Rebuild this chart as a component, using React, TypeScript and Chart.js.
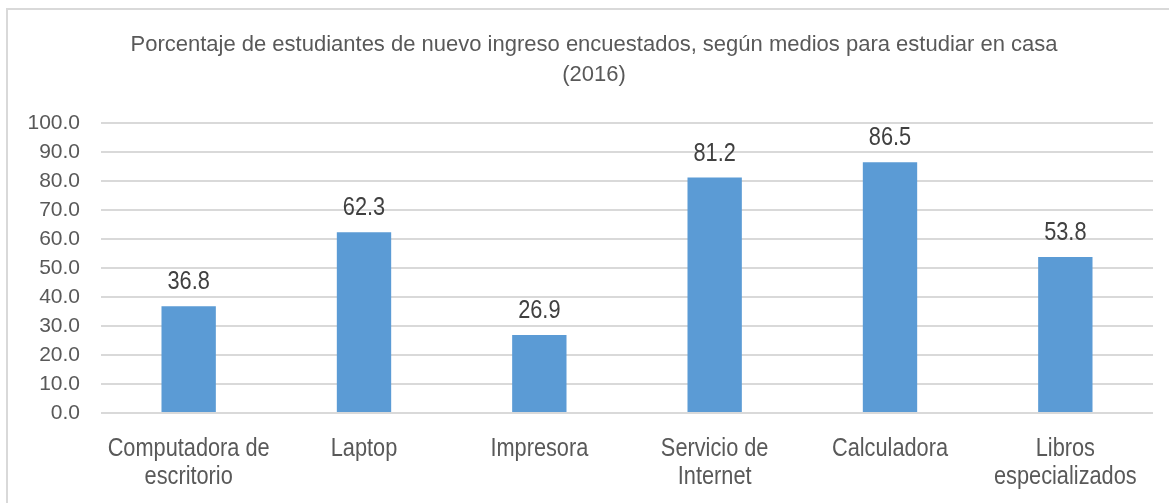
import React, { useEffect, useRef } from "react";
import { Chart, registerables } from "chart.js";

Chart.register(...registerables);

const titleLines = [
  "Porcentaje de estudiantes de nuevo ingreso encuestados, según medios para estudiar en casa",
  "(2016)",
];
const categories: (string | string[])[] = [
  ["Computadora de", "escritorio"],
  "Laptop",
  "Impresora",
  ["Servicio de", "Internet"],
  "Calculadora",
  ["Libros", "especializados"],
];
const values = [36.8, 62.3, 26.9, 81.2, 86.5, 53.8];
const yMin = 0;
const yMax = 100;
const yStep = 10;

const FONT = "'Liberation Sans Narrow', 'Arial Narrow', 'Liberation Sans', Arial, sans-serif";

// Condense the large label text horizontally, as in the reference's narrow font.
const narrowPlugin = {
  id: "narrowText",
  beforeInit(chart: any) {
    const ctx = chart.ctx;
    const orig = ctx.fillText.bind(ctx);
    ctx.fillText = (text: string, x: number, y: number, maxWidth?: number) => {
      const m = /(\d+(?:\.\d+)?)px/.exec(ctx.font);
      const size = m ? parseFloat(m[1]) : 0;
      if (size >= 24) {
        ctx.save();
        ctx.translate(x, y);
        ctx.scale(0.87, 1);
        orig(text, 0, 0);
        ctx.restore();
      } else if (maxWidth !== undefined) {
        orig(text, x, y, maxWidth);
      } else {
        orig(text, x, y);
      }
    };
  },
};

const labelPlugin = {
  id: "barLabels",
  afterDatasetsDraw(chart: any) {
    const ctx = chart.ctx;
    const meta = chart.getDatasetMeta(0);
    ctx.save();
    ctx.font = `25px ${FONT}`;
    ctx.fillStyle = "#404040";
    ctx.textAlign = "center";
    ctx.textBaseline = "alphabetic";
    meta.data.forEach((bar: any, i: number) => {
      ctx.fillText(values[i].toFixed(1), bar.x, bar.y - 17);
    });
    ctx.restore();
  },
};

const titlePlugin = {
  id: "customTitle",
  afterDraw(chart: any) {
    const ctx = chart.ctx;
    ctx.save();
    ctx.font = `22px ${FONT}`;
    ctx.fillStyle = "#595959";
    ctx.textAlign = "center";
    ctx.textBaseline = "alphabetic";
    titleLines.forEach((line, i) => {
      ctx.fillText(line, 594, 51 + i * 30);
    });
    ctx.restore();
  },
};

const framePlugin = {
  id: "frame",
  beforeDraw(chart: any) {
    const ctx = chart.ctx;
    ctx.save();
    ctx.fillStyle = "#ffffff";
    ctx.fillRect(0, 0, chart.width, chart.height);
    ctx.strokeStyle = "#d9d9d9";
    ctx.lineWidth = 2;
    ctx.beginPath();
    ctx.moveTo(7, chart.height);
    ctx.lineTo(7, 9);
    ctx.lineTo(chart.width, 9);
    ctx.stroke();
    ctx.restore();
  },
};

export default function App() {
  const ref = useRef<HTMLCanvasElement | null>(null);
  useEffect(() => {
    document.body.style.margin = "0";
    if (!ref.current) return;
    const chart = new Chart(ref.current, {
      type: "bar",
      data: {
        labels: categories,
        datasets: [
          {
            data: values,
            backgroundColor: "#5b9bd5",
            borderWidth: 0,
            barPercentage: 0.31,
            categoryPercentage: 1,
          },
        ],
      },
      plugins: [narrowPlugin, framePlugin, labelPlugin, titlePlugin],
      options: {
        responsive: false,
        animation: false,
        layout: { padding: { left: 8, right: 16, top: 123, bottom: 0 } },
        plugins: {
          legend: { display: false },
          tooltip: { enabled: false },
          title: { display: false },
        },
        scales: {
          x: {
            grid: { display: false },
            border: { display: false },
            ticks: {
              color: "#595959",
              font: { family: FONT, size: 25, lineHeight: 1.12 },
              maxRotation: 0,
              autoSkip: false,
              padding: 14,
            },
            afterFit(axis: any) {
              axis.height = 90;
            },
          },
          y: {
            min: yMin,
            max: yMax,
            grid: { color: "#d9d9d9", lineWidth: 2, drawTicks: false },
            border: { display: false },
            ticks: {
              stepSize: yStep,
              color: "#595959",
              font: { family: FONT, size: 21 },
              padding: 21,
              callback: (v: any) => Number(v).toFixed(1),
            },
            afterFit(axis: any) {
              axis.width = 93;
            },
          },
        },
      },
    });
    return () => chart.destroy();
  }, []);
  return (
    <div style={{ width: 1169, height: 503 }}>
      <canvas ref={ref} width={1169} height={503} />
    </div>
  );
}
